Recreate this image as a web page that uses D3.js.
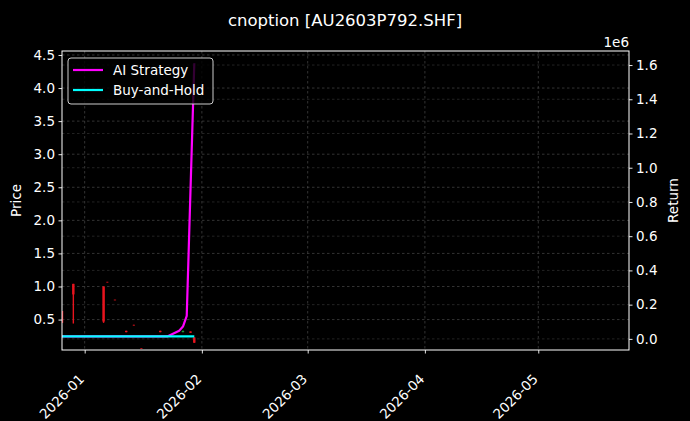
<!DOCTYPE html>
<html>
<head>
<meta charset="utf-8">
<script src="https://cdn.jsdelivr.net/npm/d3@7"></script>
<style>
  html, body { margin: 0; padding: 0; background: #000; }
  svg { display: block; }
</style>
</head>
<body>
<svg id="chart"></svg>
<script>
// candles (left axis, price)
const candleDates = ["2025-12-26", "2025-12-29", "2026-01-06", "2026-01-07", "2026-01-09", "2026-01-12",
  "2026-01-14", "2026-01-16", "2026-01-21", "2026-01-27", "2026-01-29", "2026-01-30"]
const candleOpen  = [0.63, 1.04, 1.00, 1.070, 0.800, 0.33, 0.420, 0.070, 0.33, 0.31, 0.32, 0.23]
const candleHigh  = [0.63, 1.04, 1.00, 1.070, 0.800, 0.33, 0.420, 0.070, 0.33, 0.33, 0.32, 0.23]
const candleLow   = [0.45, 0.44, 0.45, 1.062, 0.792, 0.31, 0.412, 0.062, 0.31, 0.31, 0.30, 0.15]
const candleClose = [0.45, 0.88, 0.47, 1.062, 0.792, 0.31, 0.412, 0.062, 0.31, 0.33, 0.30, 0.15]

// return series (right axis)
const returnDates = ["2025-12-26", "2025-12-29", "2025-12-30", "2025-12-31", "2026-01-05", "2026-01-06",
  "2026-01-07", "2026-01-08", "2026-01-09", "2026-01-12", "2026-01-13", "2026-01-14", "2026-01-15",
  "2026-01-16", "2026-01-19", "2026-01-20", "2026-01-21", "2026-01-22", "2026-01-23", "2026-01-26",
  "2026-01-27", "2026-01-28", "2026-01-30"]
const aiStrategy = [15000, 15000, 15000, 15000, 15000, 15000, 15000, 15000, 15000, 15000, 15000, 15000,
  15000, 15000, 15000, 15000, 15000, 15000, 15000, 48000, 72000, 135000, 1610000]
const buyAndHold = [15000, 15000, 15000, 15000, 15000, 15000, 15000, 15000, 15000, 15000, 15000, 15000,
  15000, 15000, 15000, 15000, 15000, 15000, 15000, 15000, 15000, 15000, 15000]

// axes
const xTicks = ["2026-01-01", "2026-02-01", "2026-03-01", "2026-04-01", "2026-05-01"]
const priceTicks = [0.5, 1.0, 1.5, 2.0, 2.5, 3.0, 3.5, 4.0, 4.5]
const returnTicks = [0, 200000, 400000, 600000, 800000, 1000000, 1200000, 1400000, 1600000]
const title = "cnoption [AU2603P792.SHF]"
const seriesNames = ["AI Strategy", "Buy-and-Hold"]

const svgWidth = 690
const svgHeight = 421
const marginLeft = 62
const marginRight = 61
const marginTop = 51
const marginBottom = 71
const fontSize = 13.5

const parse = d3.utcParse("%Y-%m-%d")

const svg = d3.select("#chart")
  .attr("width", svgWidth)
  .attr("height", svgHeight)
  .attr("viewBox", [0, 0, svgWidth, svgHeight])
  .attr("font-family", "DejaVu Sans, sans-serif")
  .attr("font-size", fontSize)

svg.append("rect")
  .attr("width", svgWidth).attr("height", svgHeight).attr("fill", "#000")

// scales
const x = d3.scaleUtc()
  .domain([parse("2025-12-26"), parse("2026-05-25")])
  .range([marginLeft, svgWidth - marginRight])

const yPrice = d3.scaleLinear()
  .domain([0.04, 4.56])
  .range([svgHeight - marginBottom, marginTop])

const yReturn = d3.scaleLinear()
  .domain([-65000, 1682000])
  .range([svgHeight - marginBottom, marginTop])

svg.append("defs").append("clipPath").attr("id", "clip")
  .append("rect")
  .attr("x", marginLeft).attr("y", marginTop)
  .attr("width", svgWidth - marginLeft - marginRight)
  .attr("height", svgHeight - marginTop - marginBottom)

// grid
const grid = svg.append("g")
  .attr("stroke", "#555")
  .attr("stroke-width", 0.6)
  .attr("stroke-dasharray", "2.5,2.5")
grid.selectAll(".gx").data(xTicks.map(parse)).join("line")
  .attr("x1", d => x(d)).attr("x2", d => x(d))
  .attr("y1", marginTop).attr("y2", svgHeight - marginBottom)
grid.selectAll(".gp").data(priceTicks).join("line")
  .attr("x1", marginLeft).attr("x2", svgWidth - marginRight)
  .attr("y1", d => yPrice(d)).attr("y2", d => yPrice(d))
grid.append("g").selectAll("line").data(returnTicks).join("line")
  .attr("stroke", "#3a3a3a")
  .attr("x1", marginLeft).attr("x2", svgWidth - marginRight)
  .attr("y1", d => yReturn(d)).attr("y2", d => yReturn(d))

// candles
const candles = candleDates.map((d, i) => ({
  date: parse(d), open: candleOpen[i], high: candleHigh[i], low: candleLow[i], close: candleClose[i]
}))
const candleG = svg.append("g").attr("clip-path", "url(#clip)")
candleG.selectAll("line").data(candles).join("line")
  .attr("x1", d => x(d.date)).attr("x2", d => x(d.date))
  .attr("y1", d => yPrice(d.high)).attr("y2", d => yPrice(d.low))
  .attr("stroke", d => d.close >= d.open ? "#1a9a3a" : "#e8141e")
  .attr("stroke-width", 1.4)
candleG.selectAll("rect").data(candles).join("rect")
  .attr("x", d => x(d.date) - 1.2)
  .attr("width", 2.4)
  .attr("y", d => yPrice(Math.max(d.open, d.close)))
  .attr("height", d => Math.abs(yPrice(d.open) - yPrice(d.close)))
  .attr("fill", d => d.close >= d.open ? "#1a9a3a" : "#e8141e")

// return lines
const line = (values) => d3.line()
  .x((d, i) => x(parse(returnDates[i])))
  .y(d => yReturn(d))(values)

const lineG = svg.append("g").attr("clip-path", "url(#clip)").attr("fill", "none")
lineG.append("path").attr("d", line(aiStrategy))
  .attr("stroke", "#ff00ff").attr("stroke-width", 2.2).attr("stroke-linejoin", "round")
lineG.append("path").attr("d", line(buyAndHold))
  .attr("stroke", "#00ffff").attr("stroke-width", 2.2)

// axes
const styleAxis = g => g
  .call(g => g.select(".domain").remove())
  .call(g => g.selectAll("line").attr("stroke", "#fff").attr("stroke-width", 0.9))
  .call(g => g.selectAll("text").attr("fill", "#fff").style("font-size", fontSize + "px")
    .attr("font-family", "DejaVu Sans, sans-serif"))

svg.append("g")
  .attr("transform", `translate(0,${svgHeight - marginBottom})`)
  .call(d3.axisBottom(x).tickValues(xTicks.map(parse)).tickFormat(d3.utcFormat("%Y-%m"))
    .tickSize(3.5).tickPadding(3))
  .call(styleAxis)
  .call(g => g.selectAll("text")
    .attr("text-anchor", "end")
    .attr("dy", "0.35em")
    .attr("transform", "translate(-8,22) rotate(-45)"))

svg.append("g")
  .attr("transform", `translate(${marginLeft},0)`)
  .call(d3.axisLeft(yPrice).tickValues(priceTicks).tickFormat(d3.format(".1f")).tickSize(3.5).tickPadding(3.5))
  .call(styleAxis)

svg.append("g")
  .attr("transform", `translate(${svgWidth - marginRight},0)`)
  .call(d3.axisRight(yReturn).tickValues(returnTicks).tickFormat(d => d3.format(".1f")(d / 1e6))
    .tickSize(3.5).tickPadding(3.5))
  .call(styleAxis)

// spines
svg.append("rect")
  .attr("x", marginLeft).attr("y", marginTop)
  .attr("width", svgWidth - marginLeft - marginRight)
  .attr("height", svgHeight - marginTop - marginBottom)
  .attr("fill", "none").attr("stroke", "#fff").attr("stroke-width", 1)

// offset text
svg.append("text")
  .attr("x", svgWidth - marginRight).attr("y", marginTop - 4)
  .attr("text-anchor", "end").attr("fill", "#fff")
  .text("1e6")

// axis labels
svg.append("text")
  .attr("transform", `translate(21,${(marginTop + svgHeight - marginBottom) / 2}) rotate(-90)`)
  .attr("text-anchor", "middle").attr("fill", "#fff")
  .text("Price")
svg.append("text")
  .attr("transform", `translate(678,${(marginTop + svgHeight - marginBottom) / 2}) rotate(-90)`)
  .attr("text-anchor", "middle").attr("fill", "#fff")
  .text("Return")

// title
svg.append("text")
  .attr("x", svgWidth / 2).attr("y", 26)
  .attr("text-anchor", "middle").attr("fill", "#fff")
  .style("font-size", "16.5px")
  .text(title)

// legend
const legend = svg.append("g").attr("transform", `translate(${marginLeft + 6},${marginTop + 7})`)
legend.append("rect")
  .attr("width", 145).attr("height", 46).attr("rx", 3)
  .attr("fill", "#000").attr("fill-opacity", 0.8)
  .attr("stroke", "#ccc").attr("stroke-width", 1)
legend.selectAll(".item").data(seriesNames).join("g")
  .attr("transform", (d, i) => `translate(0,${12 + i * 20})`)
  .call(g => g.append("line")
    .attr("x1", 5).attr("x2", 35)
    .attr("stroke", (d, i) => i === 0 ? "#ff00ff" : "#00ffff")
    .attr("stroke-width", 2.2))
  .call(g => g.append("text")
    .attr("x", 45).attr("dy", "0.35em").attr("fill", "#fff")
    .text(d => d))
</script>
</body>
</html>
